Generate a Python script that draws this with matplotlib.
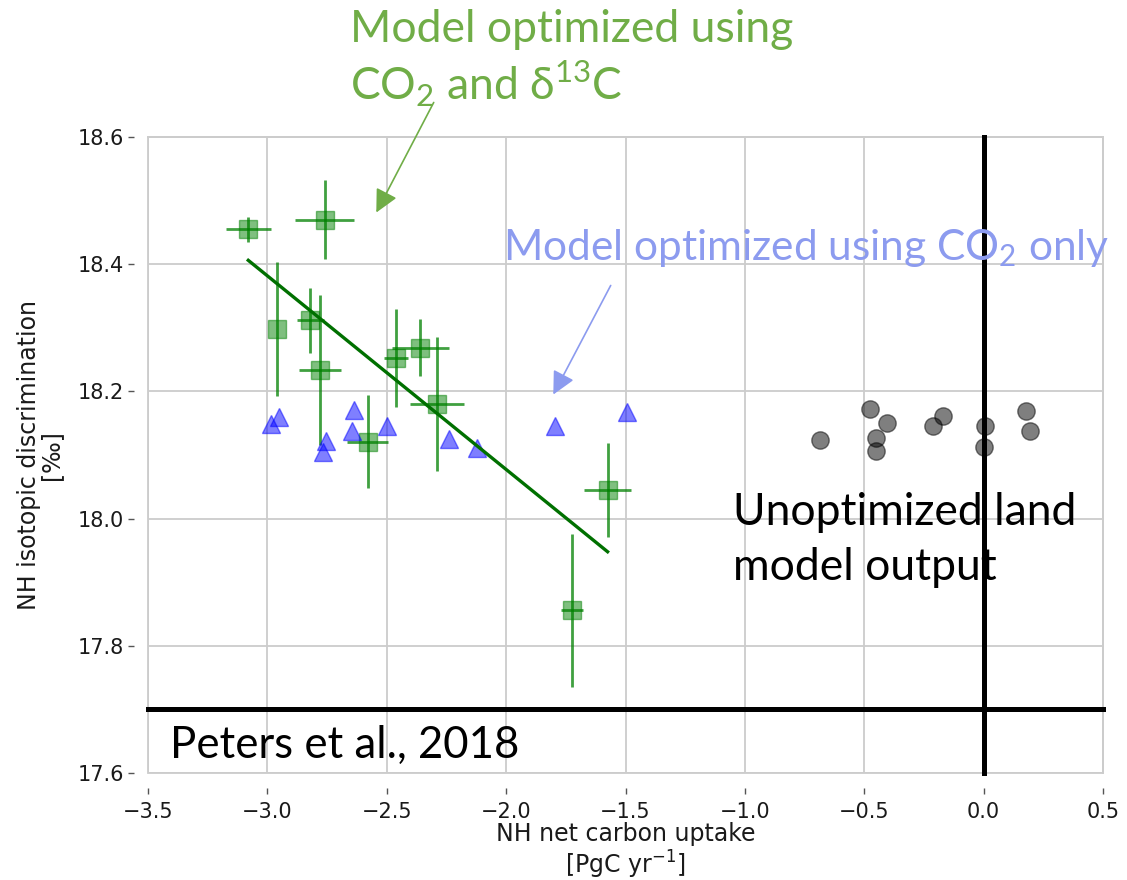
import numpy as np
import matplotlib.pyplot as plt
from matplotlib.patches import FancyArrowPatch

plt.rcParams['mathtext.fontset'] = 'custom'
plt.rcParams['mathtext.rm'] = 'Lato'
plt.rcParams['mathtext.fallback'] = 'stix'

# runs optimized with CO2 and d13C (uptake, discrimination and their errors)
c13_uptake = [-3.08, -2.76, -2.96, -2.82, -2.78, -2.46, -2.36, -2.29, -2.58, -1.575, -1.725]
c13_disc = [18.455, 18.470, 18.298, 18.312, 18.233, 18.252, 18.269, 18.180, 18.121, 18.045, 17.856]
c13_uptake_err = [0.094, 0.123, 0.0, 0.058, 0.087, 0.050, 0.120, 0.114, 0.085, 0.100, 0.045]
c13_disc_err = [0.020, 0.062, 0.105, 0.051, 0.118, 0.077, 0.045, 0.105, 0.073, 0.074, 0.120]

# runs optimized with CO2 only
co2_uptake = [-2.986, -2.950, -2.637, -2.646, -2.754, -2.766, -2.500, -2.239, -2.123, -1.795, -1.495]
co2_disc = [18.149, 18.159, 18.171, 18.138, 18.122, 18.104, 18.145, 18.125, 18.111, 18.145, 18.168]

# unoptimized land model
prior_uptake = [-0.685, -0.476, -0.406, -0.451, -0.451, -0.211, -0.169, 0.005, 0.000, 0.178, 0.194]
prior_disc = [18.124, 18.172, 18.150, 18.126, 18.106, 18.146, 18.161, 18.146, 18.112, 18.169, 18.138]

xticks = np.arange(-3.5, 0.51, 0.5)
yticks = np.arange(17.6, 18.61, 0.2)

W, H = 1127, 880
fig = plt.figure(figsize=(W / 100, H / 100), dpi=100)
ax = fig.add_axes([148 / W, 1 - 773 / H, 955 / W, 636 / H])

ax.errorbar(c13_uptake, c13_disc, xerr=c13_uptake_err, yerr=c13_disc_err,
            fmt='none', ecolor='green', elinewidth=2, alpha=0.75, zorder=3)
ax.plot(c13_uptake, c13_disc, 's', color='green', ms=12.5, alpha=0.5, zorder=4)

# linear fit through the CO2+d13C runs
slope, icpt = np.polyfit(c13_uptake, c13_disc, 1)
xfit = np.array([min(c13_uptake), max(c13_uptake)])
ax.plot(xfit, slope * xfit + icpt, color='#007000', lw=2.4, zorder=5)

ax.plot(co2_uptake, co2_disc, '^', color='blue', ms=12.5, alpha=0.5, zorder=4)
ax.plot(prior_uptake, prior_disc, 'o', color='black', ms=12.5, alpha=0.5, zorder=4)

ax.axhline(17.7, color='black', lw=3.6, zorder=6, clip_on=False)
ax.axvline(0.0, color='black', lw=3.6, zorder=6, clip_on=False)

ax.set_xlim(-3.5, 0.5)
ax.set_ylim(17.6, 18.6)
ax.set_xticks(xticks)
ax.set_yticks(yticks)
ax.set_xticklabels([('%.1f' % v).replace('-', '\u2212') for v in xticks])
ax.set_yticklabels(['%.1f' % v for v in yticks])

ax.set_axisbelow(True)
ax.grid(True, color='#cccccc', lw=1.3)
ax.spines['left'].set_position(('outward', 10))
ax.spines['bottom'].set_position(('outward', 11))
for s in ['left', 'bottom']:
    ax.spines[s].set_visible(False)
for s in ['top', 'right']:
    ax.spines[s].set_color('#cccccc')
    ax.spines[s].set_linewidth(1.3)
ax.patch.set_edgecolor('#cccccc')
ax.patch.set_linewidth(1.3)
ax.tick_params(direction='out', length=4, width=1, color='#555555',
               labelcolor='#1a1a1a', labelsize=15, pad=3.5)
ax.tick_params(axis='x', pad=6)

ax.set_xlabel('NH net carbon uptake\n[PgC yr$^{\\mathregular{-1}}$]', fontsize=17,
              color='#1a1a1a', labelpad=0, linespacing=1.1)
ax.set_ylabel('NH isotopic discrimination\n[‰]', fontsize=17, color='#1a1a1a',
              labelpad=10, linespacing=0.9)

# slide annotations
def px(x, y):
    return x / W, 1 - y / H

green = '#70AD47'
lav = '#8C9BEF'
fs = 32
fig.text(*px(350, 42), 'Model optimized using', color=green, fontsize=fs,
         family='Lato', va='baseline')
fig.text(*px(350, 100), 'CO$_\\mathregular{2}$ and $\\mathrm{\\delta}^\\mathregular{13}$C',
         color=green, fontsize=fs, family='Lato', va='baseline')
fig.text(*px(503, 260), 'Model optimized using CO$_\\mathregular{2}$ only', color=lav,
         fontsize=30.5, family='Lato', va='baseline')
fig.text(*px(733, 525), 'Unoptimized land', color='black', fontsize=fs,
         family='Lato', va='baseline')
fig.text(*px(733, 580), 'model output', color='black', fontsize=fs,
         family='Lato', va='baseline')
fig.text(*px(170, 758), 'Peters et al., 2018', color='black', fontsize=31.5,
         family='Lato', va='baseline')

for tail, head, c in [((435, 100), (375, 215), green), ((612, 283), (552, 397), lav)]:
    fig.patches.append(FancyArrowPatch(px(*tail), px(*head), transform=fig.transFigure,
                                       arrowstyle='-|>,head_length=0.7,head_width=0.35',
                                       mutation_scale=20, color=c, lw=1.2))

fig.savefig('out.png', dpi=100)
